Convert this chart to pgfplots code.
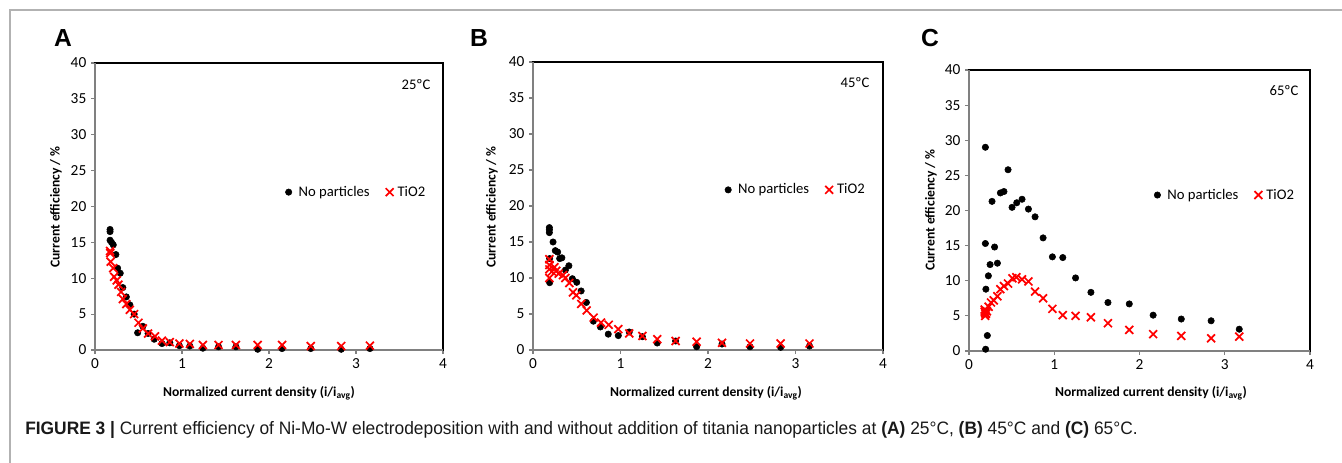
\documentclass[border=0pt]{standalone}
\usepackage{fontspec}
\setmainfont{Carlito}
\newfontfamily\arialfont{Liberation Sans}
\newfontfamily\capfont[FakeStretch=0.965]{Liberation Sans}
\usepackage{pgfplots}
\pgfplotsset{compat=1.18}
\definecolor{axgray}{RGB}{128,128,128}
\pgfplotsset{
  panel/.style={
    scale only axis, clip=false,
    xmin=0, xmax=4, ymin=0, ymax=40,
    xtick={0,1,2,3,4}, ytick={0,5,...,40},
    tick align=outside, tick pos=left, major tick length=3pt,
    every tick/.style={axgray, line width=0.8pt},
    axis line style={black, line width=0.9pt},
    tick label style={font=\fontsize{11.5}{13}\selectfont},
    /pgf/number format/assume math mode=true,
    legend style={draw=none, fill=none, legend columns=2, anchor=center,
      font=\fontsize{11}{13}\selectfont,
      /tikz/every even column/.append style={column sep=10pt}},
    legend cell align=left,
    legend image code/.code={\draw[#1] plot coordinates {(0.15cm,0cm)};},
  },
  dots/.style={only marks, mark=*, mark size=2.4pt, black},
  crosses/.style={only marks, mark=x, mark size=4.2pt, red, mark options={line width=1.3pt}},
}
\newcommand\grayframe{\draw[axgray, line width=1.2pt] (rel axis cs:0,1) -- (rel axis cs:0,0) -- (rel axis cs:1,0);}
\begin{document}
\begin{tikzpicture}[x=0.75pt, y=0.75pt]
\useasboundingbox (0,0) rectangle (1342,463);
\draw[gray!60, line width=0.8pt] (10,0) -- (10,453) -- (1342,453);

% Panel A
\begin{axis}[panel, at={(71.25pt,84.75pt)}, anchor=south west, width=261pt, height=215.25pt,
  legend style={at={(rel axis cs:0.752,0.55)}}]
\addplot[dots] coordinates {
(0.173,16.8) (0.173,16.5) (0.173,15.3) (0.19,15.0) (0.21,14.65) (0.24,13.3) (0.26,11.4)
(0.29,10.7) (0.32,8.7) (0.36,7.4) (0.40,6.3) (0.45,5.0) (0.49,2.4) (0.55,3.3) (0.61,2.3)
(0.68,1.5) (0.77,0.9) (0.86,1.0) (0.97,0.6) (1.09,0.55) (1.24,0.25) (1.42,0.45) (1.62,0.45)
(1.87,0.1) (2.15,0.2) (2.48,0.2) (2.83,0.1) (3.16,0.2)};
\addlegendentry{\hspace{3pt}No particles}
\addplot[crosses] coordinates {
(0.173,13.8) (0.175,13.5) (0.18,12.3) (0.21,11.4) (0.22,10.2) (0.25,9.7) (0.27,9.1)
(0.30,8.1) (0.32,7.1) (0.36,6.4) (0.40,5.6) (0.45,5.0) (0.50,3.8) (0.55,3.0) (0.61,2.3)
(0.69,1.9) (0.77,1.3) (0.86,1.1) (0.97,0.9) (1.09,0.85) (1.24,0.7) (1.42,0.7) (1.62,0.7)
(1.87,0.7) (2.15,0.7) (2.48,0.55) (2.83,0.55) (3.16,0.6)};
\addlegendentry{\hspace{1pt}TiO2}
\grayframe
\end{axis}

% Panel B
\begin{axis}[panel, at={(399.75pt,84.75pt)}, anchor=south west, width=262.5pt, height=216pt,
  legend style={at={(rel axis cs:0.752,0.556)}}]
\addplot[dots] coordinates {
(0.187,17.0) (0.187,16.7) (0.187,16.3) (0.19,12.7) (0.19,9.35) (0.229,15.0) (0.255,13.8)
(0.282,13.6) (0.305,12.7) (0.33,12.8) (0.37,11.1) (0.41,11.7) (0.45,9.9) (0.50,9.4)
(0.55,8.2) (0.61,6.6) (0.69,4.0) (0.77,3.2) (0.86,2.2) (0.975,2.0) (1.10,2.5) (1.25,1.85)
(1.42,0.97) (1.63,1.25) (1.87,0.45) (2.16,0.83) (2.48,0.45) (2.83,0.37) (3.16,0.55)};
\addlegendentry{\hspace{3pt}No particles}
\addplot[crosses] coordinates {
(0.187,12.6) (0.187,11.8) (0.187,11.2) (0.187,10.0) (0.217,10.9) (0.244,11.5) (0.267,11.0)
(0.293,10.6) (0.343,10.4) (0.37,10.0) (0.415,9.3) (0.457,8.0) (0.495,7.6) (0.552,6.4)
(0.613,5.5) (0.693,4.5) (0.777,3.8) (0.865,3.5) (0.975,2.9) (1.10,2.3) (1.25,1.95)
(1.42,1.5) (1.63,1.25) (1.87,1.15) (2.16,1.0) (2.48,0.9) (2.83,0.9) (3.16,0.9)};
\addlegendentry{\hspace{1pt}TiO2}
\grayframe
\end{axis}

% Panel C
\begin{axis}[panel, at={(726.75pt,84pt)}, anchor=south west, width=255.75pt, height=210.75pt,
  legend style={at={(rel axis cs:0.752,0.555)}}]
\addplot[dots] coordinates {
(0.192,29.0) (0.192,15.3) (0.198,8.8) (0.195,0.25) (0.215,2.2) (0.227,10.7) (0.247,12.3)
(0.27,21.3) (0.30,14.8) (0.333,12.5) (0.368,22.5) (0.41,22.7) (0.458,25.8) (0.505,20.45)
(0.56,21.1) (0.622,21.6) (0.697,20.2) (0.775,19.1) (0.869,16.1) (0.978,13.4) (1.10,13.3)
(1.25,10.4) (1.43,8.35) (1.63,6.9) (1.88,6.7) (2.16,5.1) (2.49,4.55) (2.84,4.3) (3.17,3.1)};
\addlegendentry{\hspace{3pt}No particles}
\addplot[crosses] coordinates {
(0.184,5.9) (0.184,5.6) (0.19,5.35) (0.19,5.0) (0.20,5.3) (0.21,5.65) (0.23,6.3)
(0.258,6.9) (0.29,7.2) (0.333,7.8) (0.368,8.8) (0.41,9.25) (0.458,9.6) (0.509,10.35)
(0.556,10.5) (0.622,10.2) (0.697,9.9) (0.775,8.45) (0.869,7.5) (0.978,6.0) (1.10,5.1)
(1.25,5.0) (1.43,4.8) (1.63,3.95) (1.88,3.0) (2.16,2.4) (2.49,2.15) (2.84,1.8) (3.17,2.05)};
\addlegendentry{\hspace{1pt}TiO2}
\grayframe
\end{axis}

% panel letters
\node[font=\arialfont\bfseries\fontsize{18.5}{20}\selectfont] at (63,425) {A};
\node[font=\arialfont\bfseries\fontsize{18.5}{20}\selectfont] at (479,425) {B};
\node[font=\arialfont\bfseries\fontsize{18.5}{20}\selectfont] at (930,425) {C};
% y labels
\foreach \xx/\yy in {56/256, 492/256, 931/253}
  \node[rotate=90, font=\bfseries\fontsize{10.2}{12}\selectfont] at (\xx,\yy) {Current efficiency / \%};
% x labels
\foreach \xx in {259, 706, 1151}
  \node[font=\bfseries\fontsize{10.2}{12}\selectfont] at (\xx,70) {Normalized current density (i/i\textsubscript{avg})};
% temperature annotations
\node[font=\fontsize{11}{13}\selectfont] at (416,378) {25ºC};
\node[font=\fontsize{11}{13}\selectfont] at (855,380) {45ºC};
\node[font=\fontsize{11}{13}\selectfont] at (1284,372) {65ºC};
% caption
\node[anchor=west, inner sep=0pt, text=black!90, font=\capfont\fontsize{13.5}{15}\selectfont] at (25,33)
  {\textbf{FIGURE 3 |} Current efficiency of Ni-Mo-W electrodeposition with and without addition of titania nanoparticles at \textbf{(A)} 25°C, \textbf{(B)} 45°C and \textbf{(C)} 65°C.};
\end{tikzpicture}
\end{document}
